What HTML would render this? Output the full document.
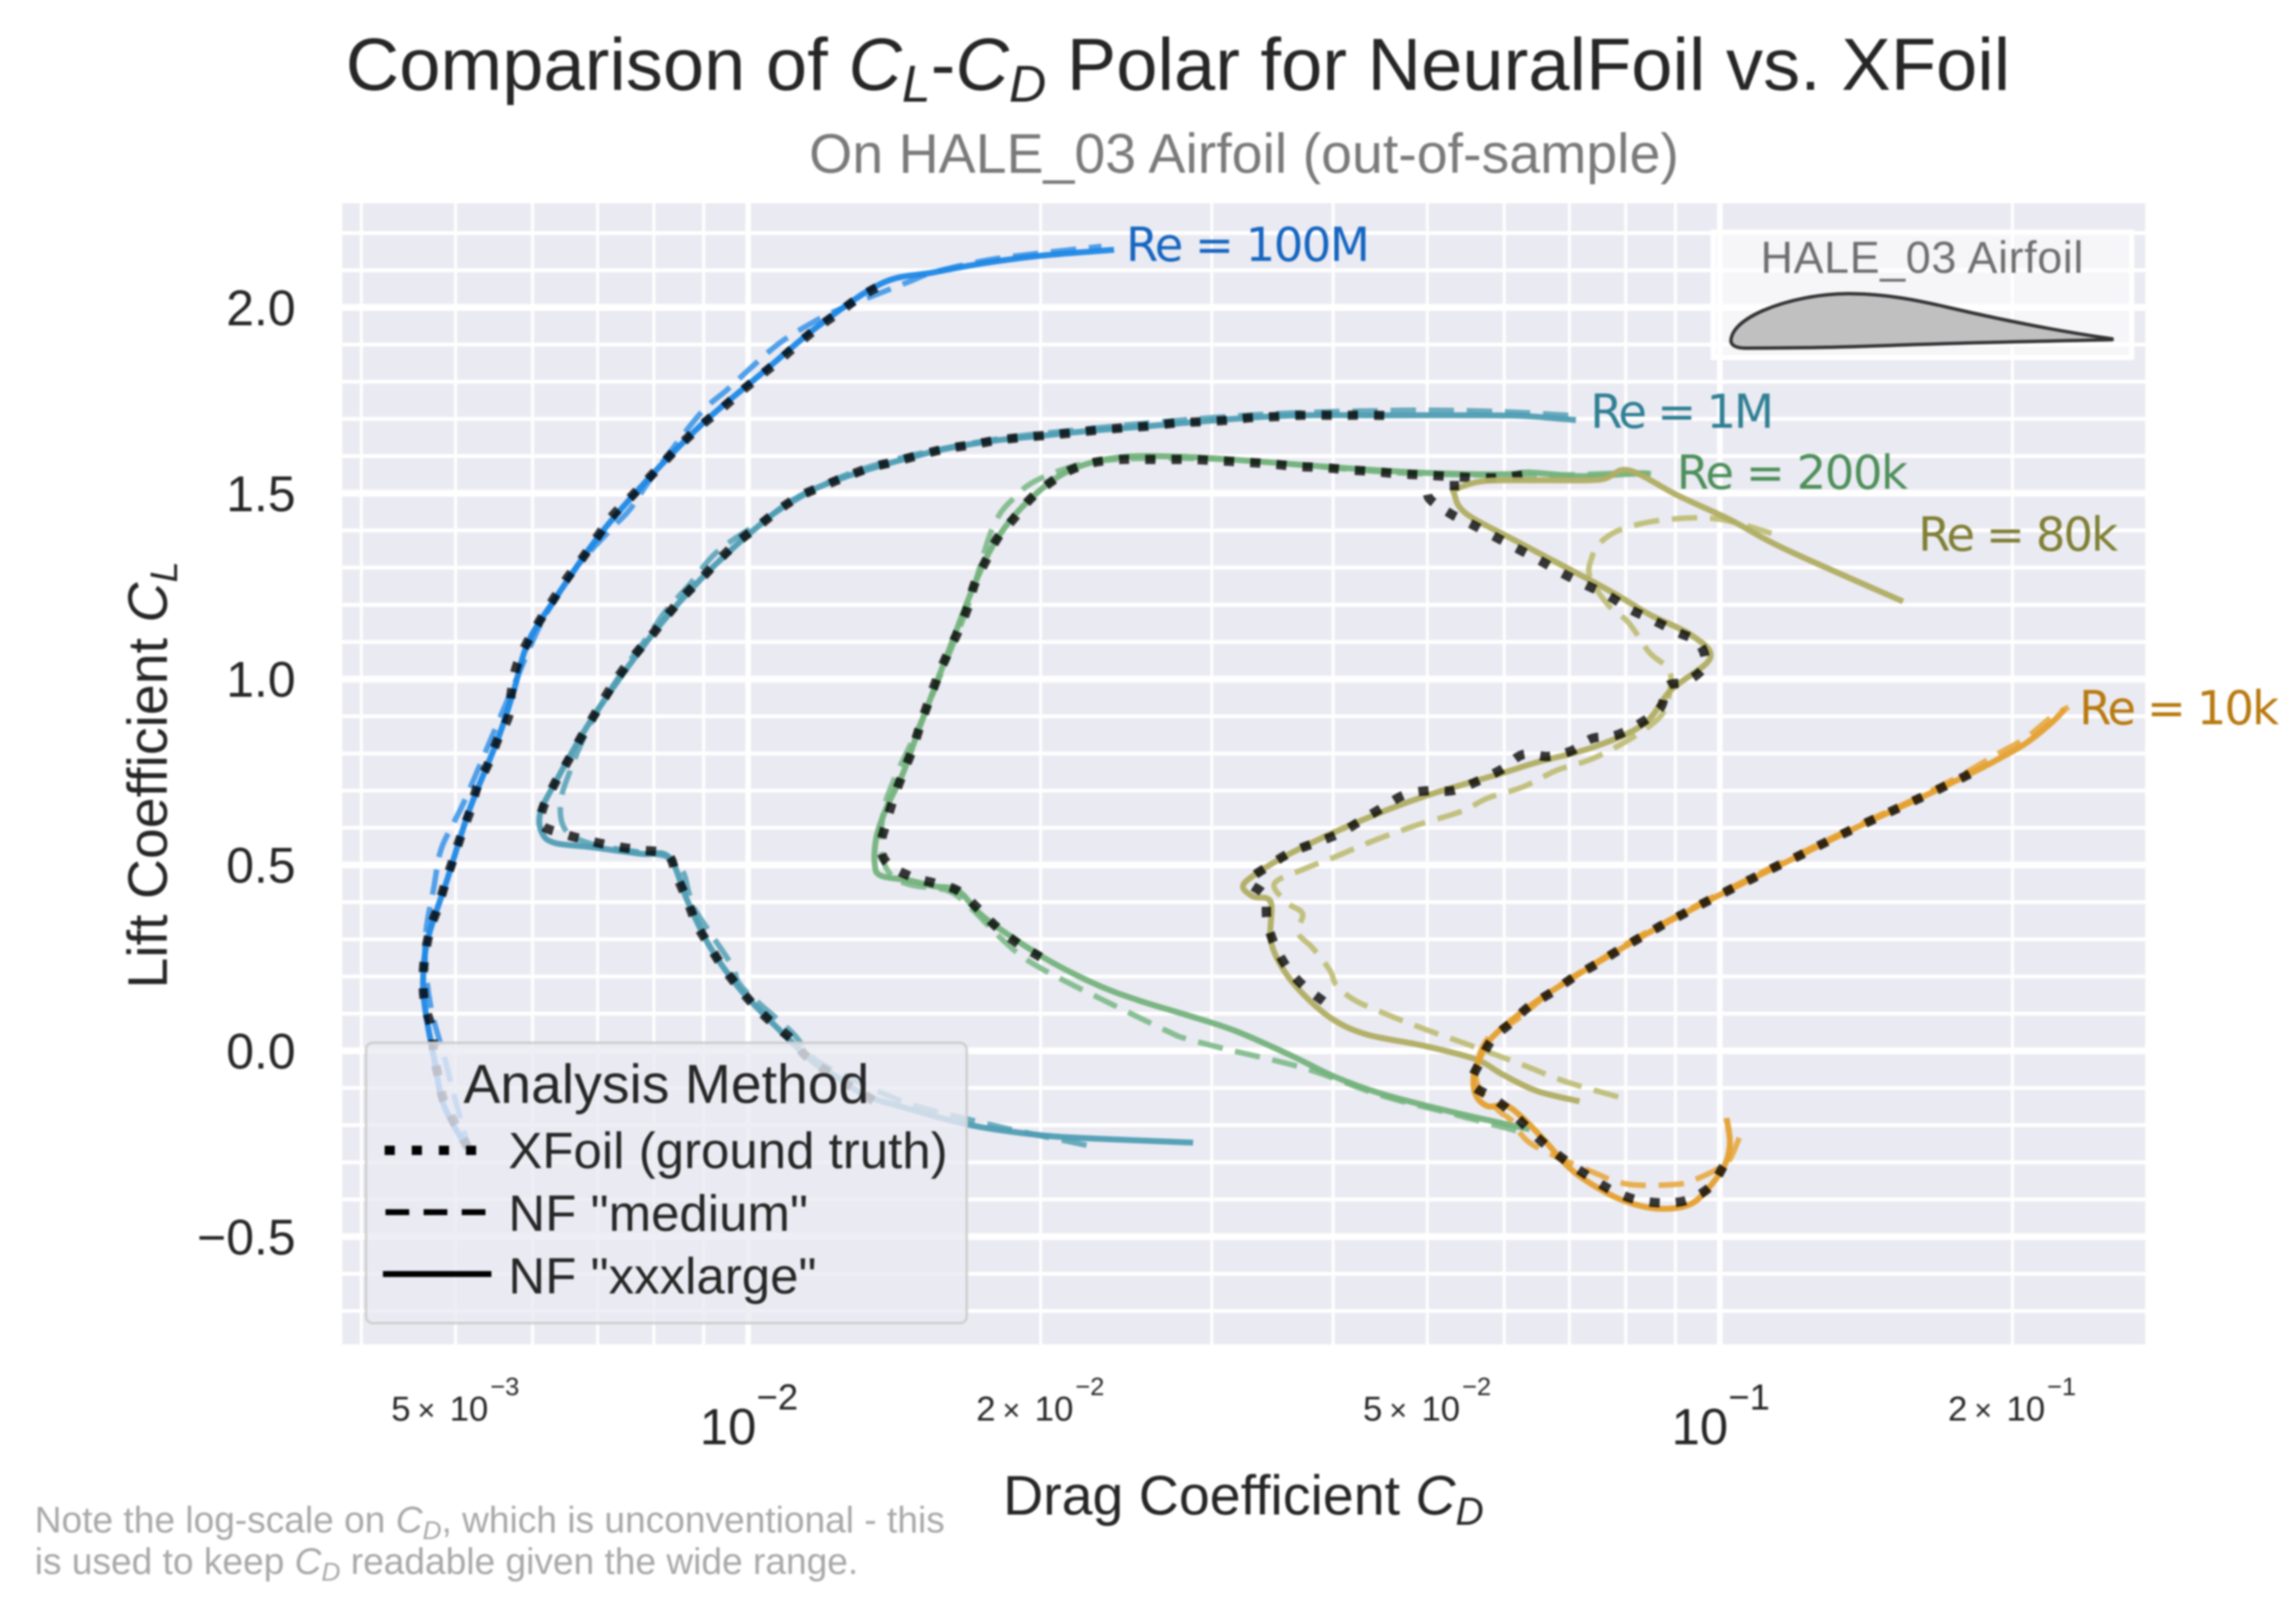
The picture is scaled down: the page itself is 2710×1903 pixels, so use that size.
<!DOCTYPE html>
<html lang="en">
<head>
<meta charset="utf-8">
<title>Comparison of CL-CD Polar for NeuralFoil vs. XFoil</title>
<style>
html,body{margin:0;padding:0;background:#fff;}
svg{display:block;filter:blur(1px);}
text{font-family:"Liberation Sans",Arial,sans-serif;fill:#262626;}
.re{font-family:"DejaVu Sans",sans-serif;font-size:55px;}
</style>
</head>
<body>
<svg id="chart" xmlns="http://www.w3.org/2000/svg" width="2710" height="1903" viewBox="0 0 2710 1903">
  <rect x="404" y="240" width="2128" height="1347" fill="#eaeaf2"/>
  <g id="grid"></g>
  <g id="inset">
    <rect x="2022" y="274" width="494" height="148" fill="rgba(255,255,255,0.55)" stroke="#ffffff" stroke-width="6"/>
    <text x="2078" y="322" font-size="53" textLength="381" style="fill:#6e6e6e">HALE_03 Airfoil</text>
    <path d="M2043 402 C2044 388 2060 376 2080 367 C2110 354 2150 346 2187 346.7 C2225 347 2262 354 2300 363 C2360 377 2430 391 2493 400 L2493 401 C2400 403 2300 405 2218 408.3 C2160 410.5 2110 411 2060 411 C2050 411 2043 408 2043 402 Z" fill="#c0c0c0" stroke="#333333" stroke-width="4" stroke-linejoin="round"/>
  </g>
  <g id="series"></g>

  <g id="re-labels">
    <text class="re" x="1329" y="308" textLength="288" style="fill:#1565c0">Re = 100M</text>
    <text class="re" x="1877" y="505" textLength="217" style="fill:#2f7f93">Re = 1M</text>
    <text class="re" x="1979" y="577" textLength="273" style="fill:#4d8f5a">Re = 200k</text>
    <text class="re" x="2264" y="650" textLength="236" style="fill:#7f7f35">Re = 80k</text>
    <text class="re" x="2454" y="855" textLength="236" style="fill:#b87a10">Re = 10k</text>
  </g>

  <g id="legend">
    <rect x="432" y="1231" width="709" height="331" rx="8" fill="rgba(234,234,242,0.8)" stroke="rgba(204,204,204,0.9)" stroke-width="3"/>
    <text x="547" y="1302" font-size="65.3">Analysis Method</text>
    <line x1="454" y1="1358" x2="566" y2="1358" stroke="#000" stroke-width="11" stroke-dasharray="12 20"/>
    <text x="600" y="1379" font-size="60.2">XFoil (ground truth)</text>
    <line x1="455" y1="1431" x2="574" y2="1431" stroke="#000" stroke-width="7" stroke-dasharray="28 17"/>
    <text x="600" y="1453" font-size="60.2">NF "medium"</text>
    <line x1="452" y1="1504" x2="580" y2="1504" stroke="#000" stroke-width="7"/>
    <text x="600" y="1527" font-size="60.2">NF "xxxlarge"</text>
  </g>

  <g id="axes"></g>

  <text x="408" y="106" font-size="87.5">Comparison of <tspan font-style="italic">C</tspan><tspan font-style="italic" font-size="61" dy="14">L</tspan><tspan dy="-14">-</tspan><tspan font-style="italic">C</tspan><tspan font-style="italic" font-size="61" dy="14">D</tspan><tspan dy="-14"> Polar for NeuralFoil vs. XFoil</tspan></text>
  <text x="955" y="204" font-size="65.5" style="fill:#7a7a7a">On HALE_03 Airfoil (out-of-sample)</text>
  <text transform="translate(197,1167) rotate(-90)" font-size="65.5">Lift Coefficient <tspan font-style="italic">C</tspan><tspan font-style="italic" font-size="45" dy="12">L</tspan></text>
  <text x="1184" y="1788" font-size="65.5">Drag Coefficient <tspan font-style="italic">C</tspan><tspan font-style="italic" font-size="46" dy="12">D</tspan></text>
  <text x="41" y="1809" font-size="43.8" style="fill:#a8a8a8">Note the log-scale on <tspan font-style="italic" style="fill:#a8a8a8">C</tspan><tspan font-style="italic" font-size="31" dy="8" style="fill:#a8a8a8">D</tspan><tspan dy="-8" style="fill:#a8a8a8">, which is unconventional - this</tspan></text>
  <text x="41" y="1858" font-size="43.8" style="fill:#a8a8a8">is used to keep <tspan font-style="italic" style="fill:#a8a8a8">C</tspan><tspan font-style="italic" font-size="31" dy="8" style="fill:#a8a8a8">D</tspan><tspan dy="-8" style="fill:#a8a8a8"> readable given the wide range.</tspan></text>
</svg>

<script>
// ---------- axis ticks ----------
const xGridMajor = [0.01, 0.1];
const xGridMinor = [0.004, 0.005, 0.006, 0.007, 0.008, 0.009, 0.02, 0.03, 0.04, 0.05, 0.06, 0.07, 0.08, 0.09, 0.2];
const yGridMajor = [-0.5, 0, 0.5, 1, 1.5, 2];
const yGridMinor = [-0.7, -0.6, -0.4, -0.3, -0.2, -0.1, 0.1, 0.2, 0.3, 0.4, 0.6, 0.7, 0.8, 0.9, 1.1, 1.2, 1.3, 1.4, 1.6, 1.7, 1.8, 1.9, 2.1, 2.2];
const yTickValues = [-0.5, 0, 0.5, 1, 1.5, 2];
const yTickLabels = ['\u22120.5', '0.0', '0.5', '1.0', '1.5', '2.0'];
const xTickSmallValues = [0.005, 0.02, 0.05, 0.2];
const xTickSmallMantissa = ['5', '2', '5', '2'];
const xTickSmallExponent = ['\u22123', '\u22122', '\u22122', '\u22121'];
const xTickLargeValues = [0.01, 0.1];
const xTickLargeExponent = ['\u22122', '\u22121'];

// ---------- Re = 100M ----------
const re100mXfoilCd = [.00515,.00488,.00481,.00475,.00473,.00465,.00463,.00465,.00471,.0048,.00488,.00498,.00507,.00518,.00527,.00541,.00553,.00567,.00571,.00578,.00592,.00611,.00631,.00652,.00676,.007,.00725,.00757,.00788,.00821,.00857,.00897,.00938,.00982,.01028,.01077,.01128,.01181,.01242,.01303,.01373];
const re100mXfoilCl = [-.261,-.145,-.079,-.0125,.054,.124,.19,.256,.329,.389,.452,.521,.582,.648,.714,.776,.84,.901,.97,1.036,1.097,1.159,1.216,1.273,1.327,1.384,1.439,1.489,1.537,1.587,1.637,1.685,1.726,1.772,1.815,1.858,1.904,1.947,1.988,2.028,2.061];
const re100mLargeCd = [.00513,.00486,.00476,.00466,.00463,.00468,.0049,.00517,.00553,.00574,.00594,.00633,.00702,.0079,.009,.0103,.01181,.01373,.0155,.0176,.02,.0238];
const re100mLargeCl = [-.26,-.145,-.03,.1,.19,.3,.46,.65,.84,.97,1.1,1.216,1.385,1.54,1.69,1.82,1.95,2.065,2.094,2.12,2.139,2.155];
const re100mMediumCd = [.00518,.00496,.00487,.00471,.00465,.00475,.00483,.00499,.00515,.00571,.00608,.00628,.00665,.00728,.00757,.00804,.00892,.00952,.01014,.0108,.0117,.01247,.0146,.0155,.0176,.02,.0231];
const re100mMediumCl = [-.281,-.1,-.017,.124,.288,.441,.541,.619,.694,.97,1.134,1.2,1.3,1.412,1.459,1.56,1.713,1.779,1.845,1.906,1.962,1.997,2.068,2.094,2.127,2.146,2.164];

// ---------- Re = 1M ----------
const re1mXfoilCd = [.01346,.01164,.01112,.0106,.01016,.00978,.00941,.00912,.00885,.00866,.00844,.00826,.00775,.0073,.00689,.00649,.00613,.00615,.00633,.00652,.00672,.00693,.00715,.00738,.00766,.00797,.00827,.0086,.00897,.00935,.00978,.01025,.01075,.0113,.01194,.01262,.01337,.01416,.01503,.01594,.01695,.01797,.0191,.0203,.02145,.0227,.0243,.0257,.0273,.0289,.031,.0328,.0348,.0372,.0394,.0417,.0442,.0467];
const re1mXfoilCl = [-.134,-.028,.028,.074,.12,.17,.227,.283,.341,.404,.471,.528,.54,.55,.564,.582,.607,.653,.721,.778,.84,.899,.958,1.013,1.068,1.12,1.174,1.225,1.273,1.323,1.371,1.412,1.455,1.492,1.519,1.545,1.569,1.585,1.603,1.619,1.63,1.642,1.65,1.656,1.662,1.669,1.676,1.68,1.688,1.692,1.696,1.703,1.706,1.71,1.71,1.71,1.71,1.708];
const re1mLargeCd = [.0287,.0227,.02,.01695,.01455,.0132,.0123,.01164,.0106,.00978,.00912,.00866,.00829,.00775,.00689,.00633,.00614,.00611,.00633,.00693,.00797,.00897,.01025,.0113,.01262,.01416,.01594,.01797,.0203,.0227,.0257,.0289,.0328,.0372,.0442,.0467,.055,.0627,.0711];
const re1mLargeCl = [-.247,-.236,-.227,-.2,-.154,-.12,-.068,-.028,.074,.17,.283,.404,.521,.53,.548,.559,.585,.639,.721,.899,1.12,1.273,1.412,1.492,1.545,1.585,1.619,1.642,1.656,1.669,1.68,1.692,1.703,1.71,1.71,1.71,1.71,1.708,1.697];
const re1mMediumCd = [.0223,.0189,.01695,.01455,.01262,.01164,.01112,.01016,.00978,.00959,.00883,.00868,.00857,.00827,.00775,.00689,.00649,.00641,.00654,.00688,.00738,.00792,.00823,.00871,.00928,.01028,.012,.01416,.01785,.0227,.0292,.0363,.047,.055,.0627,.0711];
const re1mMediumCl = [-.254,-.215,-.186,-.14,-.068,-.017,.047,.138,.183,.236,.377,.43,.482,.521,.534,.557,.594,.664,.745,.878,1.011,1.122,1.184,1.255,1.341,1.421,1.525,1.591,1.644,1.675,1.701,1.716,1.723,1.722,1.717,1.708];

// ---------- Re = 200k ----------
const re200kXfoilCd = [.02,.0189,.018,.0173,.01646,.0156,.01473,.01393,.01369,.01388,.01412,.01443,.01476,.01503,.01533,.01566,.01604,.01643,.01682,.0171,.01756,.01806,.01877,.01952,.02044,.02145,.0227,.0242,.0257,.0272,.0287,.0307,.0328,.0348,.0368,.0391,.0415,.0442,.0469,.0497,.0529,.0561,.0597,.0637];
const re200kXfoilCl = [.252,.291,.334,.379,.43,.45,.468,.503,.55,.615,.68,.746,.81,.874,.938,1.004,1.068,1.126,1.191,1.255,1.318,1.38,1.432,1.485,1.528,1.562,1.583,1.591,1.591,1.591,1.591,1.587,1.583,1.578,1.572,1.569,1.563,1.558,1.552,1.549,1.545,1.542,1.542,1.552];
const re200kLargeCd = [.0637,.0531,.0448,.04,.0362,.0317,.0282,.0252,.0227,.02,.0175,.01646,.0155,.0146,.0137,.0135,.01355,.01388,.01443,.01503,.01604,.0171,.01806,.01952,.02145,.0242,.0287,.0348,.0415,.0497,.0602,.0637,.0717,.0805,.0846];
const re200kLargeCl = [-.211,-.165,-.115,-.068,-.0125,.054,.097,.136,.181,.256,.359,.43,.443,.459,.471,.501,.573,.654,.746,.874,1.068,1.255,1.38,1.485,1.562,1.597,1.597,1.582,1.567,1.555,1.551,1.556,1.546,1.552,1.553];
const re200kMediumCd = [.0617,.0531,.0448,.0375,.0312,.0282,.0272,.0239,.0211,.0193,.0181,.01695,.01608,.01473,.01405,.01373,.01378,.01416,.01503,.01589,.01682,.01785,.0188,.02,.0227,.0272,.0334,.0466,.0648,.0819,.087];
const re200kMediumCl = [-.215,-.17,-.12,-.048,.003,.033,.049,.12,.19,.247,.309,.384,.43,.446,.471,.532,.644,.735,.879,1.031,1.194,1.407,1.489,1.54,1.585,1.594,1.586,1.555,1.548,1.555,1.546];

// ---------- Re = 80k ----------
const re80kXfoilCd = [.0391,.0372,.0358,.0348,.0342,.034,.0328,.0345,.0362,.0383,.0406,.0427,.045,.0474,.0502,.0531,.0566,.0597,.0627,.0666,.0705,.0738,.0782,.0829,.0869,.0883,.0925,.0965,.0951,.0901,.0853,.0808,.0767,.0727,.0687,.0656,.062,.0588,.0556,.0529,.0502,.0502];
const re80kXfoilCl = [.133,.177,.227,.286,.35,.418,.456,.501,.534,.559,.585,.619,.655,.689,.7,.7,.728,.758,.797,.792,.808,.84,.849,.882,.924,.981,.994,1.038,1.097,1.128,1.159,1.188,1.225,1.254,1.286,1.316,1.35,1.382,1.416,1.444,1.487,1.528];
const re80kXfoilTipCd = [.0533,.0533];
const re80kXfoilTipCl = [1.533,1.508];
const re80kLargeCd = [.0717,.0648,.0597,.0561,.0497,.0433,.04,.0375,.0356,.0345,.0345,.0331,.0323,.0331,.0362,.0427,.0497,.0597,.0648,.0741,.0835,.089,.0977,.0935,.0846,.0767,.0627,.0549,.0533,.0536,.0573,.0657,.0753,.0805,.0905,.1026,.1162,.1543];
const re80kLargeCl = [-.136,-.108,-.063,-.023,.013,.044,.084,.145,.216,.297,.4,.415,.441,.471,.532,.619,.685,.747,.776,.817,.879,.97,1.056,1.118,1.174,1.24,1.362,1.444,1.498,1.512,1.533,1.535,1.537,1.562,1.494,1.428,1.352,1.209];
const re80kMediumCd = [.0786,.0694,.0627,.0549,.0497,.0457,.0421,.0403,.0397,.0381,.0368,.0372,.0359,.0348,.0375,.0397,.0442,.0489,.0542,.0577,.0627,.068,.0741,.082,.0874,.089,.0883,.0846,.0805,.0767,.0735,.0738,.0753,.0792,.0874,.1,.1162];
const re80kMediumCl = [-.124,-.083,-.038,.018,.058,.095,.136,.177,.216,.277,.318,.369,.398,.45,.491,.516,.567,.608,.644,.68,.71,.755,.787,.849,.909,.99,1.031,1.072,1.153,1.2,1.275,1.326,1.367,1.403,1.428,1.43,1.382];

// ---------- Re = 10k ----------
const re10kXfoilCd = [.1008,.0977,.0925,.0872,.0821,.0776,.0738,.0702,.0667,.0637,.0612,.0584,.0556,.0567,.0583,.061,.0637,.0675,.0708,.0748,.0786,.0826,.0872,.0921,.097,.1025,.1081,.1143,.1205,.1271,.1342,.1416,.15,.1579,.1668,.1761,.186];
const re10kXfoilCl = [-.311,-.366,-.402,-.409,-.401,-.377,-.343,-.305,-.261,-.213,-.168,-.126,-.089,-.028,.031,.076,.12,.161,.199,.235,.27,.303,.338,.371,.402,.434,.464,.496,.524,.555,.585,.614,.644,.671,.7,.73,.761];
const re10kLargeCd = [.1016,.1024,.101,.0966,.093,.0874,.082,.0767,.0705,.066,.0627,.0602,.0577,.0561,.0558,.0567,.0583,.0637,.0708,.0786,.0872,.097,.1081,.1205,.1342,.15,.1668,.186,.1941,.2061,.2187,.2266];
const re10kLargeCl = [-.181,-.25,-.311,-.379,-.414,-.425,-.414,-.384,-.322,-.241,-.181,-.147,-.149,-.12,-.068,-.017,.036,.12,.199,.27,.338,.402,.464,.524,.585,.644,.7,.761,.787,.826,.879,.92];
const re10kMediumCd = [.1047,.1026,.1006,.0946,.0905,.0805,.0741,.0641,.0612,.0592,.0567,.0561,.0577,.0618,.0675,.0748,.0826,.0921,.1025,.1143,.1271,.1416,.1579,.1761,.1941,.2061,.2187,.2285];
const re10kMediumCl = [-.234,-.288,-.311,-.345,-.359,-.359,-.327,-.252,-.19,-.161,-.108,-.048,.033,.084,.165,.24,.308,.375,.438,.5,.559,.618,.675,.738,.802,.84,.895,.925];

// ---------- axis functions ----------
function xScale(cd) { return 883 + 1147 * (Math.log10(cd) + 2); }
function yScale(cl) { return 1240.5 - 438.8 * cl; }

const svgNS = 'http://www.w3.org/2000/svg';

function smoothPath(cd, cl) {
  const px = cd.map(xScale);
  const py = cl.map(yScale);
  let d = 'M' + px[0].toFixed(1) + ' ' + py[0].toFixed(1);
  for (let i = 0; i < px.length - 1; i++) {
    const a = Math.max(i - 1, 0);
    const b = Math.min(i + 2, px.length - 1);
    const c1x = px[i] + (px[i + 1] - px[a]) / 6;
    const c1y = py[i] + (py[i + 1] - py[a]) / 6;
    const c2x = px[i + 1] - (px[b] - px[i]) / 6;
    const c2y = py[i + 1] - (py[b] - py[i]) / 6;
    d += 'C' + c1x.toFixed(1) + ' ' + c1y.toFixed(1) + ' ' + c2x.toFixed(1) + ' ' + c2y.toFixed(1) + ' ' + px[i + 1].toFixed(1) + ' ' + py[i + 1].toFixed(1);
  }
  return d;
}

const seriesGroup = document.getElementById('series');

function drawSolid(cd, cl, color, name) {
  const el = document.createElementNS(svgNS, 'path');
  
  
  el.setAttribute('d', smoothPath(cd, cl));
  el.setAttribute('fill', 'none');
  el.setAttribute('stroke', color);
  el.setAttribute('stroke-width', '7');
  el.setAttribute('stroke-linejoin', 'round');
  el.setAttribute('opacity', '0.95');
  seriesGroup.appendChild(el);
}

function drawDashed(cd, cl, color, name) {
  const el = document.createElementNS(svgNS, 'path');
  
  
  el.setAttribute('d', smoothPath(cd, cl));
  el.setAttribute('fill', 'none');
  el.setAttribute('stroke', color);
  el.setAttribute('stroke-width', '6.5');
  el.setAttribute('stroke-dasharray', '30 15');
  el.setAttribute('opacity', '0.9');
  seriesGroup.appendChild(el);
}

function drawDotted(cd, cl, name) {
  const el = document.createElementNS(svgNS, 'path');
  
  
  el.setAttribute('d', smoothPath(cd, cl));
  el.setAttribute('fill', 'none');
  el.setAttribute('stroke', '#000000');
  el.setAttribute('stroke-width', '11');
  el.setAttribute('stroke-dasharray', '12 19');
  el.setAttribute('opacity', '0.78');
  seriesGroup.appendChild(el);
}

// ---------- grid ----------
const gridGroup = document.getElementById('grid');

function drawVerticalGrid(value, width, name) {
  const el = document.createElementNS(svgNS, 'line');
  
  
  el.setAttribute('x1', xScale(value));
  el.setAttribute('x2', xScale(value));
  el.setAttribute('y1', 240);
  el.setAttribute('y2', 1587);
  el.setAttribute('stroke', '#ffffff');
  el.setAttribute('stroke-width', width);
  gridGroup.appendChild(el);
}

function drawHorizontalGrid(value, width, name) {
  const el = document.createElementNS(svgNS, 'line');
  
  
  el.setAttribute('x1', 404);
  el.setAttribute('x2', 2532);
  el.setAttribute('y1', yScale(value));
  el.setAttribute('y2', yScale(value));
  el.setAttribute('stroke', '#ffffff');
  el.setAttribute('stroke-width', width);
  gridGroup.appendChild(el);
}

xGridMinor.forEach(function (v) { drawVerticalGrid(v, 3.5, 'x-minor-gridline'); });
yGridMinor.forEach(function (v) { drawHorizontalGrid(v, 4.5, 'y-minor-gridline'); });
xGridMajor.forEach(function (v) { drawVerticalGrid(v, 6.5, 'x-major-gridline'); });
yGridMajor.forEach(function (v) { drawHorizontalGrid(v, 8, 'y-major-gridline'); });

// ---------- series ----------
drawDashed(re100mMediumCd, re100mMediumCl, '#3f97e8', 'series-re100m-medium');
drawSolid(re100mLargeCd, re100mLargeCl, '#1e88e5', 'series-re100m-xxxlarge');
drawDotted(re100mXfoilCd, re100mXfoilCl, 'series-re100m-xfoil');

drawDashed(re1mMediumCd, re1mMediumCl, '#5ba4b8', 'series-re1m-medium');
drawSolid(re1mLargeCd, re1mLargeCl, '#4f9db3', 'series-re1m-xxxlarge');
drawDotted(re1mXfoilCd, re1mXfoilCl, 'series-re1m-xfoil');

drawDashed(re200kMediumCd, re200kMediumCl, '#7cb988', 'series-re200k-medium');
drawSolid(re200kLargeCd, re200kLargeCl, '#74b27c', 'series-re200k-xxxlarge');
drawDotted(re200kXfoilCd, re200kXfoilCl, 'series-re200k-xfoil');

drawDashed(re80kMediumCd, re80kMediumCl, '#bcbb72', 'series-re80k-medium');
drawSolid(re80kLargeCd, re80kLargeCl, '#b0ad62', 'series-re80k-xxxlarge');
drawDotted(re80kXfoilCd, re80kXfoilCl, 'series-re80k-xfoil');
drawDotted(re80kXfoilTipCd, re80kXfoilTipCl, 'series-re80k-xfoil-tip');

drawDashed(re10kMediumCd, re10kMediumCl, '#e8a93f', 'series-re10k-medium');
drawSolid(re10kLargeCd, re10kLargeCl, '#e5a02f', 'series-re10k-xxxlarge');
drawDotted(re10kXfoilCd, re10kXfoilCl, 'series-re10k-xfoil');

// ---------- tick labels ----------
const axesGroup = document.getElementById('axes');

function addText(x, y, size, anchor, content, name) {
  const el = document.createElementNS(svgNS, 'text');
  
  
  el.setAttribute('x', x);
  el.setAttribute('y', y);
  el.setAttribute('font-size', size);
  el.setAttribute('text-anchor', anchor);
  el.textContent = content;
  axesGroup.appendChild(el);
}

yTickValues.forEach(function (v, i) {
  addText(349, yScale(v) + 21, 59, 'end', yTickLabels[i], 'y-tick-label');
});

xTickLargeValues.forEach(function (v, i) {
  const x = xScale(v);
  addText(x - 57, 1705, 60, 'start', '10', 'x-tick-label-base');
  addText(x + 10, 1664, 43, 'start', xTickLargeExponent[i], 'x-tick-label-exponent');
});

xTickSmallValues.forEach(function (v, i) {
  const x = xScale(v);
  addText(x - 76, 1677, 41, 'start', xTickSmallMantissa[i], 'x-tick-label-mantissa');
  addText(x - 45, 1677, 36, 'start', '\u00d7', 'x-tick-label-times');
  addText(x - 7, 1677, 41, 'start', '10', 'x-tick-label-base');
  addText(x + 41, 1647, 30, 'start', xTickSmallExponent[i], 'x-tick-label-exponent');
});
</script>
</body>
</html>
